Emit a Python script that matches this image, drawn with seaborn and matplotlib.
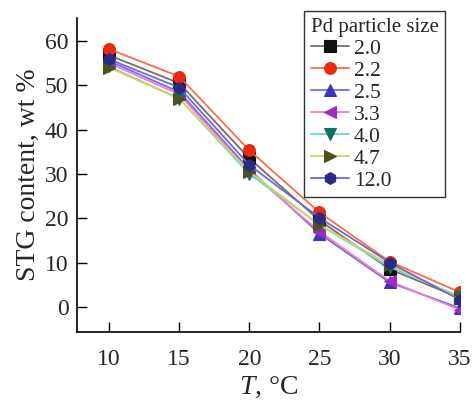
import numpy as np
import pandas as pd
import matplotlib
matplotlib.use("Agg")
import matplotlib.pyplot as plt
import seaborn as sns

# Temperature points and STG content for each Pd particle size (nm)
temperature = [10, 15, 20, 25, 30, 35]
sizes = ["2.0", "2.2", "2.5", "3.3", "4.0", "4.7", "12.0"]
stg_2_0 = [56.8, 50.5, 33.5, 19.5, 8.5, 2.0]
stg_2_2 = [58.2, 52.0, 35.3, 21.3, 10.2, 3.3]
stg_2_5 = [55.5, 48.5, 31.0, 16.5, 5.5, -0.3]
stg_3_3 = [55.0, 48.0, 30.5, 17.0, 5.8, -0.7]
stg_4_0 = [54.3, 47.0, 30.0, 18.5, 9.0, 2.3]
stg_4_7 = [54.0, 47.0, 30.5, 18.5, 9.5, 2.0]
stg_12_0 = [55.9, 49.5, 32.0, 20.1, 10.0, 1.6]
series = [stg_2_0, stg_2_2, stg_2_5, stg_3_3, stg_4_0, stg_4_7, stg_12_0]

line_colors = ["#707070", "#ff6a45", "#6f6fe0", "#f27ccc", "#6fd3d8", "#d4d45a", "#7466d6"]
marker_colors = ["#111111", "#e82a10", "#3a35b5", "#a02ac0", "#136e62", "#4f5020", "#2a2a85"]
marker_shapes = ["s", "o", "^", "<", "v", ">", "h"]

df = pd.DataFrame({
    "T": np.tile(temperature, len(sizes)),
    "STG": np.concatenate(series),
    "size": np.repeat(sizes, len(temperature)),
})

sns.set_theme(style="ticks")
plt.rcParams["font.family"] = ["Liberation Serif", "DejaVu Serif"]
plt.rcParams["mathtext.fontset"] = "custom"
plt.rcParams["mathtext.it"] = "Liberation Serif:italic"
plt.rcParams["mathtext.rm"] = "Liberation Serif"

fig = plt.figure(figsize=(4.74, 4.01), dpi=100)
ax = fig.add_axes([0.162, 0.172, 0.808, 0.783])

sns.lineplot(data=df, x="T", y="STG", hue="size", style="size",
             hue_order=sizes, style_order=sizes,
             palette=dict(zip(sizes, line_colors)),
             markers=dict(zip(sizes, marker_shapes)), dashes=False,
             linewidth=1.3, markersize=8.5, ax=ax)

data_lines = ax.lines[:len(sizes)]
for ln, mc in zip(data_lines, marker_colors):
    ln.set_markerfacecolor(mc)
    ln.set_markeredgecolor(mc)
    ln.set_markeredgewidth(0.8)

old = ax.get_legend()
if old is not None:
    old.remove()
leg = ax.legend(handles=data_lines, labels=sizes, title="Pd particle size",
                loc="upper right", bbox_to_anchor=(0.962, 1.022),
                fontsize=15.5, title_fontsize=15, frameon=True, fancybox=False,
                handlelength=1.75, handletextpad=0.25, labelspacing=0.09,
                borderpad=0.3, borderaxespad=0.0)
leg.get_frame().set_edgecolor("black")
leg.get_frame().set_linewidth(1.0)
leg._legend_box.align = "left"

ax.set_xlim(7.7, 35.0)
ax.set_ylim(-5.7, 65.2)
ax.set_xticks([10, 15, 20, 25, 30, 35])
ax.set_yticks([0, 10, 20, 30, 40, 50, 60])
ax.tick_params(direction="in", length=7, width=1.0, labelsize=17, color="black")
ax.tick_params(axis="x", pad=12)
ax.tick_params(axis="y", pad=6)
for side in ["top", "right"]:
    ax.spines[side].set_visible(False)
for side in ["left", "bottom"]:
    ax.spines[side].set_linewidth(1.2)
    ax.spines[side].set_color("black")

ax.set_xlabel("$T$, °C", fontsize=20, labelpad=4)
ax.set_ylabel("STG content, wt %", fontsize=20, labelpad=3)

fig.savefig("out.png", dpi=100)
